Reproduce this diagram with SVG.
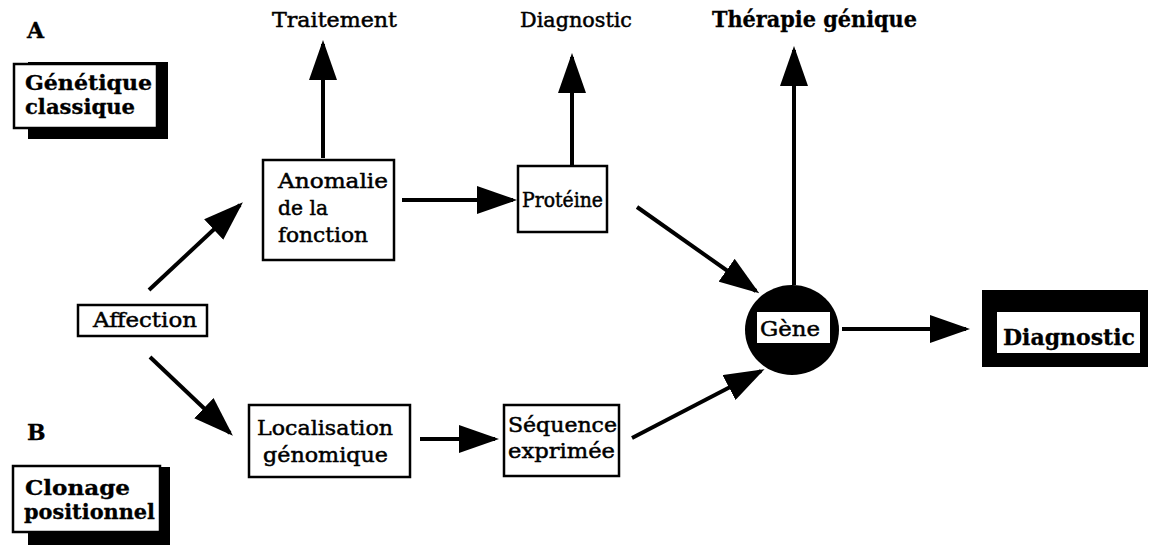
<svg xmlns="http://www.w3.org/2000/svg" width="1155" height="548" viewBox="0 0 1155 548">
<style>
text{font-family:"DejaVu Serif","Liberation Serif",serif;font-size:21px;fill:#000;stroke:#000;stroke-width:0.5}
.b{font-weight:bold;font-size:22px;stroke-width:0.3}
.t{font-size:20px}
.box{fill:#fff;stroke:#000;stroke-width:2.5}
.ln{stroke:#000;stroke-width:4;fill:none;marker-end:url(#ah)}
</style>
<defs>
<marker id="ah" markerWidth="10" markerHeight="7" refX="9" refY="3.5" orient="auto" markerUnits="strokeWidth" viewBox="0 0 10 7">
<path d="M0,0 L10,3.5 L0,7 Z" fill="#000"/>
</marker>
</defs>
<rect width="1155" height="548" fill="#fff"/>
<g id="labelA"><text class="b" x="27" y="38">A</text></g>
<g id="labelB"><text class="b" x="27" y="440">B</text></g>
<g id="genetique">
<rect x="28" y="62" width="140" height="77" fill="#000"/>
<rect class="box" x="14" y="64" width="143" height="64"/>
<text class="b t" x="25" y="90" textLength="127" lengthAdjust="spacingAndGlyphs">Génétique</text>
<text class="b t" x="25" y="114" textLength="110" lengthAdjust="spacingAndGlyphs">classique</text>
</g>
<g id="clonage">
<rect x="28" y="467" width="142" height="78" fill="#000"/>
<rect class="box" x="13" y="466" width="147" height="66"/>
<text class="b t" x="25" y="495" textLength="105" lengthAdjust="spacingAndGlyphs">Clonage</text>
<text class="b t" x="24" y="519" textLength="131" lengthAdjust="spacingAndGlyphs">positionnel</text>
</g>
<g id="traitement"><text x="272" y="27" textLength="125" lengthAdjust="spacingAndGlyphs">Traitement</text></g>
<g id="diagnostic-top"><text x="520" y="27" textLength="112" lengthAdjust="spacingAndGlyphs">Diagnostic</text></g>
<g id="therapie"><text class="b" x="712" y="27" textLength="205" lengthAdjust="spacingAndGlyphs">Thérapie génique</text></g>
<g id="affection">
<rect class="box" x="78" y="305" width="129" height="31"/>
<text x="93" y="327" textLength="104" lengthAdjust="spacingAndGlyphs">Affection</text>
</g>
<g id="anomalie">
<rect class="box" x="263" y="160" width="131" height="100"/>
<text x="278" y="188" textLength="110" lengthAdjust="spacingAndGlyphs">Anomalie</text>
<text x="278" y="215" textLength="50" lengthAdjust="spacingAndGlyphs">de la</text>
<text x="278" y="242" textLength="90" lengthAdjust="spacingAndGlyphs">fonction</text>
</g>
<g id="proteine">
<rect class="box" x="518" y="166" width="89" height="66"/>
<text x="522" y="207" textLength="81" lengthAdjust="spacingAndGlyphs">Protéine</text>
</g>
<g id="localisation">
<rect class="box" x="249" y="405" width="161" height="72"/>
<text x="257" y="435" textLength="136" lengthAdjust="spacingAndGlyphs">Localisation</text>
<text x="263" y="462" textLength="125" lengthAdjust="spacingAndGlyphs">génomique</text>
</g>
<g id="sequence">
<rect class="box" x="504" y="405" width="115" height="71"/>
<text x="508" y="432" textLength="109" lengthAdjust="spacingAndGlyphs">Séquence</text>
<text x="508" y="458" textLength="107" lengthAdjust="spacingAndGlyphs">exprimée</text>
</g>
<g id="gene">
<ellipse cx="792" cy="330" rx="47" ry="45" fill="#000"/>
<rect x="757" y="312" width="73" height="31" fill="#fff"/>
<text x="760" y="336" textLength="60" lengthAdjust="spacingAndGlyphs">Gène</text>
</g>
<g id="diagnostic-right">
<rect x="982" y="290" width="166" height="77" fill="#000"/>
<rect x="997" y="312" width="143" height="41" fill="#fff"/>
<text class="b" x="1003" y="345" textLength="132" lengthAdjust="spacingAndGlyphs">Diagnostic</text>
</g>
<g id="connectors">
<line class="ln" x1="323" y1="158" x2="323" y2="44"/>
<line class="ln" x1="572" y1="165" x2="572" y2="57"/>
<line class="ln" x1="794" y1="285" x2="794" y2="50"/>
<line class="ln" x1="402" y1="200" x2="513" y2="200"/>
<line class="ln" x1="420" y1="439" x2="495" y2="439"/>
<line class="ln" x1="842" y1="329" x2="966" y2="329"/>
<line class="ln" x1="149" y1="290" x2="240" y2="205"/>
<line class="ln" x1="150" y1="357" x2="230" y2="433"/>
<line class="ln" x1="637" y1="207" x2="756" y2="291"/>
<line class="ln" x1="632" y1="438" x2="761" y2="371"/>
</g>
</svg>
